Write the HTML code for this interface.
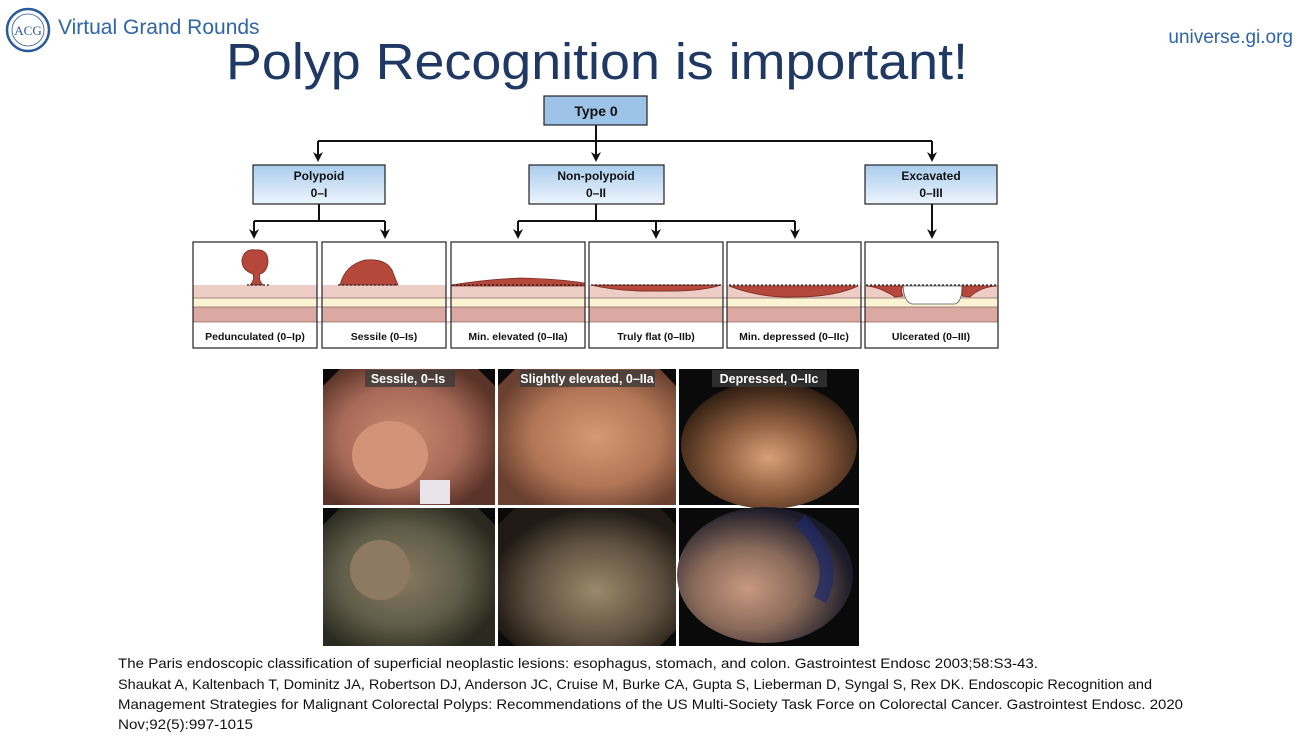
<!DOCTYPE html>
<html><head><meta charset="utf-8"><style>
html,body{margin:0;padding:0;background:#fff;}
body{width:1316px;height:741px;overflow:hidden;position:relative;font-family:"Liberation Sans",sans-serif;}
</style></head><body>
<svg width="1316" height="741" viewBox="0 0 1316 741" xmlns="http://www.w3.org/2000/svg" style="position:absolute;left:0;top:0">
<defs>
<linearGradient id="bg" x1="0" y1="0" x2="0" y2="1"><stop offset="0" stop-color="#a9cdee"/><stop offset="1" stop-color="#eef5fc"/></linearGradient>
<radialGradient id="p1" cx="0.45" cy="0.5" r="0.6"><stop offset="0" stop-color="#c98a70"/><stop offset="0.6" stop-color="#a86a58"/><stop offset="1" stop-color="#5a3428"/></radialGradient>
<radialGradient id="p2" cx="0.55" cy="0.5" r="0.6"><stop offset="0" stop-color="#d49a76"/><stop offset="0.6" stop-color="#b27656"/><stop offset="1" stop-color="#6a4030"/></radialGradient>
<radialGradient id="p3" cx="0.5" cy="0.6" r="0.6"><stop offset="0" stop-color="#d8a078"/><stop offset="0.5" stop-color="#8a5a3c"/><stop offset="1" stop-color="#2a1a10"/></radialGradient>
<radialGradient id="p4" cx="0.45" cy="0.5" r="0.6"><stop offset="0" stop-color="#8a7a62"/><stop offset="0.6" stop-color="#5e5c48"/><stop offset="1" stop-color="#2a2a20"/></radialGradient>
<radialGradient id="p5" cx="0.55" cy="0.6" r="0.6"><stop offset="0" stop-color="#9a8a6a"/><stop offset="0.6" stop-color="#5e5040"/><stop offset="1" stop-color="#201a14"/></radialGradient>
<radialGradient id="p6" cx="0.4" cy="0.6" r="0.6"><stop offset="0" stop-color="#c89a80"/><stop offset="0.5" stop-color="#8a6a5a"/><stop offset="1" stop-color="#1a1a28"/></radialGradient>
</defs>

<!-- header -->
<circle cx="28" cy="30" r="21" fill="#fff" stroke="#2a5a9a" stroke-width="2.5"/>
<circle cx="28" cy="30" r="16" fill="none" stroke="#2a5a9a" stroke-width="0.8"/>
<text x="28" y="35" font-size="13" fill="#2a5a9a" text-anchor="middle" font-family="Liberation Serif">ACG</text>
<text x="58" y="34" font-size="21" fill="#2f65a7">Virtual Grand Rounds</text>
<text x="1293" y="43" font-size="19" fill="#2f65a7" text-anchor="end">universe.gi.org</text>
<text x="597" y="79" font-size="51" fill="#1f3864" text-anchor="middle" textLength="742" lengthAdjust="spacingAndGlyphs">Polyp Recognition is important!</text>

<!-- tree -->
<g stroke="#111" stroke-width="2" fill="none">
<path d="M596,125 V141"/>
<path d="M318,141 H932"/>
<path d="M318,141 V156 M596,141 V156 M932,141 V156"/>
<path d="M319,204 V221 M254,221 H385 M254,221 V233 M385,221 V233"/>
<path d="M596,204 V221 M518,221 H795 M518,221 V233 M656,221 V233 M795,221 V233"/>
<path d="M932,204 V233"/>
</g>
<g fill="#111">
<polygon points="313,152 318,162 323,152 318,155"/>
<polygon points="591,152 596,162 601,152 596,155"/>
<polygon points="927,152 932,162 937,152 932,155"/>
<polygon points="249,229 254,239 259,229 254,232"/>
<polygon points="380,229 385,239 390,229 385,232"/>
<polygon points="513,229 518,239 523,229 518,232"/>
<polygon points="651,229 656,239 661,229 656,232"/>
<polygon points="790,229 795,239 800,229 795,232"/>
<polygon points="927,229 932,239 937,229 932,232"/>
</g>
<rect x="544" y="96" width="103" height="29" fill="#9dc3e8" stroke="#222" stroke-width="1.2"/>
<text x="596" y="116" font-size="14" font-weight="bold" text-anchor="middle" fill="#111">Type 0</text>
<g font-size="12" font-weight="bold" text-anchor="middle" fill="#111">
<rect x="253" y="165" width="132" height="39" fill="url(#bg)" stroke="#222" stroke-width="1.2"/>
<text x="319" y="180">Polypoid</text><text x="319" y="197">0–I</text>
<rect x="529" y="165" width="135" height="39" fill="url(#bg)" stroke="#222" stroke-width="1.2"/>
<text x="596" y="180">Non-polypoid</text><text x="596" y="197">0–II</text>
<rect x="865" y="165" width="132" height="39" fill="url(#bg)" stroke="#222" stroke-width="1.2"/>
<text x="931" y="180">Excavated</text><text x="931" y="197">0–III</text>
</g>

<!-- panels -->
<g>
<rect x="193" y="285" width="124" height="13" fill="#eecdc6"/><rect x="193" y="298" width="124" height="9" fill="#fbf3d2"/><rect x="193" y="307" width="124" height="15" fill="#dba9a2"/>
<rect x="322" y="285" width="124" height="13" fill="#eecdc6"/><rect x="322" y="298" width="124" height="9" fill="#fbf3d2"/><rect x="322" y="307" width="124" height="15" fill="#dba9a2"/>
<rect x="451" y="285" width="134" height="13" fill="#eecdc6"/><rect x="451" y="298" width="134" height="9" fill="#fbf3d2"/><rect x="451" y="307" width="134" height="15" fill="#dba9a2"/>
<rect x="589" y="285" width="134" height="13" fill="#eecdc6"/><rect x="589" y="298" width="134" height="9" fill="#fbf3d2"/><rect x="589" y="307" width="134" height="15" fill="#dba9a2"/>
<rect x="727" y="285" width="134" height="13" fill="#eecdc6"/><rect x="727" y="298" width="134" height="9" fill="#fbf3d2"/><rect x="727" y="307" width="134" height="15" fill="#dba9a2"/>
<rect x="865" y="285" width="133" height="13" fill="#eecdc6"/><rect x="865" y="298" width="133" height="9" fill="#fbf3d2"/><rect x="865" y="307" width="133" height="15" fill="#dba9a2"/>
</g>
<g stroke="#8a6a66" stroke-width="0.8">
<path d="M193,298H998M193,307H998M193,322H998"/>
</g>
<g fill="#b5483a" stroke="#7a2a20" stroke-width="0.8">
<path d="M250,285 Q255,280 253,274 Q241,270 242,259 Q245,248 256,250 Q268,249 268,262 Q267,272 260,274 Q258,280 263,285 Z"/>
<path d="M340,285 Q345,265 365,260 Q385,258 392,270 Q395,278 398,285 Z"/>
<path d="M452,285 Q480,280 520,278 Q560,279 584,283 L584,286 H452 Z"/>
<path d="M591,285 Q620,292 660,291 Q700,292 721,285 Z"/>
<path d="M729,286 Q760,298 795,297 Q835,297 858,286 Z"/>
<path d="M866,286 Q880,287 895,297 L903,296 Q900,290 903,286 Z"/>
<path d="M997,286 Q980,287 970,297 L962,296 Q964,290 960,286 Z"/>
</g>
<path d="M903,286 Q904,302 912,304 H955 Q962,302 962,286 Z" fill="#fff" stroke="#555" stroke-width="0.8"/>
<g stroke="#222" stroke-width="1.2" stroke-dasharray="2,2"><path d="M247,285H270M338,285H398M452,285H584M591,285H721M729,285H858M866,285H997"/></g>
<g fill="none" stroke="#222" stroke-width="1.2">
<rect x="193" y="242" width="124" height="106"/><rect x="322" y="242" width="124" height="106"/>
<rect x="451" y="242" width="134" height="106"/><rect x="589" y="242" width="134" height="106"/>
<rect x="727" y="242" width="134" height="106"/><rect x="865" y="242" width="133" height="106"/>
</g>
<g font-size="10.5" font-weight="bold" text-anchor="middle" fill="#111">
<text x="255" y="340">Pedunculated (0–Ip)</text>
<text x="384" y="340">Sessile (0–Is)</text>
<text x="518" y="340">Min. elevated (0–IIa)</text>
<text x="656" y="340">Truly flat (0–IIb)</text>
<text x="794" y="340">Min. depressed (0–IIc)</text>
<text x="931" y="340">Ulcerated (0–III)</text>
</g>

<!-- photos -->
<rect x="322" y="368" width="538" height="279" fill="#fff"/>
<g>
<rect x="323" y="369" width="172" height="136" fill="#0a0a0a"/>
<polygon points="340,369 478,369 495,386 495,505 323,505 323,386" fill="url(#p1)"/>
<ellipse cx="390" cy="455" rx="38" ry="34" fill="#d39378"/>
<rect x="420" y="480" width="30" height="24" fill="#e8e4ea"/>
<rect x="498" y="369" width="178" height="136" fill="#0a0a0a"/>
<polygon points="515,369 660,369 676,386 676,505 498,505 498,386" fill="url(#p2)"/>
<rect x="679" y="369" width="180" height="136" fill="#0a0a0a"/>
<ellipse cx="769" cy="445" rx="88" ry="64" fill="url(#p3)"/>
<rect x="323" y="508" width="172" height="138" fill="#0a0a0a"/>
<polygon points="340,508 478,508 495,525 495,646 323,646 323,525" fill="url(#p4)"/>
<circle cx="380" cy="570" r="30" fill="#8e7a62"/>
<rect x="498" y="508" width="178" height="138" fill="#0a0a0a"/>
<polygon points="515,508 660,508 676,525 676,630 660,646 515,646 498,630 498,525" fill="url(#p5)"/>
<rect x="679" y="508" width="180" height="138" fill="#0a0a0a"/>
<ellipse cx="765" cy="575" rx="88" ry="68" fill="url(#p6)"/>
<path d="M800,520 Q840,560 820,600" stroke="#1e2a6a" stroke-width="14" fill="none" opacity="0.7"/>
</g>
<g fill="#3a3a3a" opacity="0.75"><rect x="365" y="370" width="90" height="17"/><rect x="520" y="370" width="135" height="17"/><rect x="712" y="370" width="115" height="17"/></g>
<g font-size="12.5" font-weight="bold" fill="#fff" text-anchor="middle">
<text x="408" y="383">Sessile, 0–Is</text>
<text x="587" y="383">Slightly elevated, 0–IIa</text>
<text x="769" y="383">Depressed, 0–IIc</text>
</g>

<!-- citations -->
<g font-size="14" fill="#111">
<text x="118" y="668" textLength="920" lengthAdjust="spacingAndGlyphs">The Paris endoscopic classification of superficial neoplastic lesions: esophagus, stomach, and colon. Gastrointest Endosc 2003;58:S3-43.</text>
<text x="118" y="689" textLength="1034" lengthAdjust="spacingAndGlyphs">Shaukat A, Kaltenbach T, Dominitz JA, Robertson DJ, Anderson JC, Cruise M, Burke CA, Gupta S, Lieberman D, Syngal S, Rex DK. Endoscopic Recognition and</text>
<text x="118" y="709" textLength="1065" lengthAdjust="spacingAndGlyphs">Management Strategies for Malignant Colorectal Polyps: Recommendations of the US Multi-Society Task Force on Colorectal Cancer. Gastrointest Endosc. 2020</text>
<text x="118" y="729" textLength="135" lengthAdjust="spacingAndGlyphs">Nov;92(5):997-1015</text>
</g>
</svg>
</body></html>
